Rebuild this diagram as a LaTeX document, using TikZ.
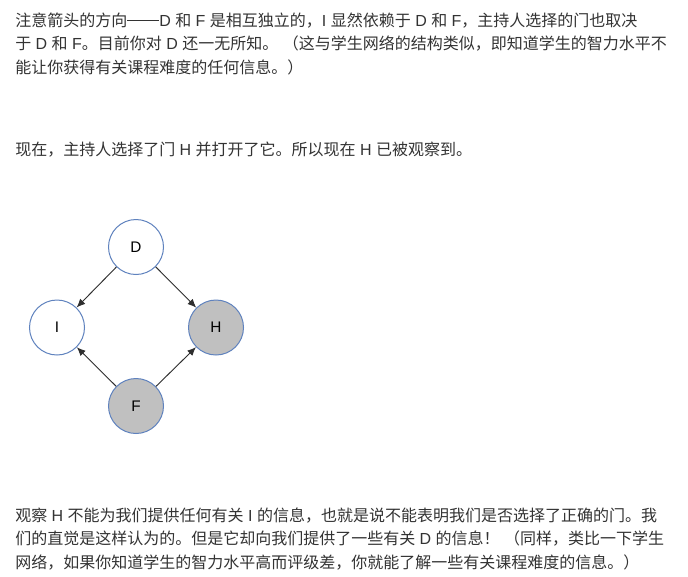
\documentclass[tikz,border=0pt]{standalone}
\usepackage{fontspec}
\newfontfamily\cjk{Noto Sans CJK SC}
\newfontfamily\arial{Liberation Sans}
\usetikzlibrary{arrows.meta}
\definecolor{txt}{HTML}{333333}
\definecolor{ring}{HTML}{5F82BE}
\definecolor{shade}{HTML}{C0C0C0}
\definecolor{edge}{HTML}{2E2E2E}
\newcommand\latn[1]{{\arial#1}}
\newcommand\asp{{\arial\ }}
\newcommand\mydashes{\raisebox{0.33em}{\rule{2em}{0.07em}}}
\tikzset{
  para/.style={anchor=base west, inner sep=0pt, text=txt, font=\cjk\fontsize{12pt}{15pt}\selectfont},
  var/.style={circle, draw=ring, line width=0.75pt, fill=white, minimum size=41.25pt, inner sep=0pt, text=black, font=\arial\fontsize{11.5pt}{13pt}\selectfont},
  obs/.style={var, fill=shade},
  link/.style={draw=edge, line width=0.7pt, -{Latex[length=6.5pt,width=5.5pt]}}
}
\begin{document}
\begin{tikzpicture}[x=0.75pt, y=-0.75pt]
\useasboundingbox (0,0) rectangle (688,576);
\fill[white] (0,0) rectangle (688,576);
\node[para] (t1) at (15,26) {注意箭头的方向\mydashes\latn{D}\asp 和\asp\latn{F}\asp 是相互独立的，\latn{I}\asp 显然依赖于\asp\latn{D}\asp 和\asp\latn{F}，主持人选择的门也取决};
\node[para] (t2) at (15,49.5) {于\asp\latn{D}\asp 和\asp\latn{F}。目前你对\asp\latn{D}\asp 还一无所知。\asp（这与学生网络的结构类似，即知道学生的智力水平不};
\node[para] (t3) at (15,73) {能让你获得有关课程难度的任何信息。）};
\node[para] (t4) at (15,155.5) {现在，主持人选择了门\asp\latn{H}\asp 并打开了它。所以现在\asp\latn{H}\asp 已被观察到。};
\node[var] (D) at (136,247) {D};
\node[var] (I) at (57,327.5) {I};
\node[obs] (H) at (216,327.5) {H};
\node[obs] (F) at (136,406) {F};
\draw[link] (D) -- (I);
\draw[link] (D) -- (H);
\draw[link] (F) -- (I);
\draw[link] (F) -- (H);
\node[para] (b1) at (15,521) {观察\asp\latn{H}\asp 不能为我们提供任何有关\asp\latn{I}\asp 的信息，也就是说不能表明我们是否选择了正确的门。我};
\node[para] (b2) at (15,544.5) {们的直觉是这样认为的。但是它却向我们提供了一些有关\asp\latn{D}\asp 的信息！\asp（同样，类比一下学生};
\node[para] (b3) at (15,568) {网络，如果你知道学生的智力水平高而评级差，你就能了解一些有关课程难度的信息。）};
\end{tikzpicture}
\end{document}
